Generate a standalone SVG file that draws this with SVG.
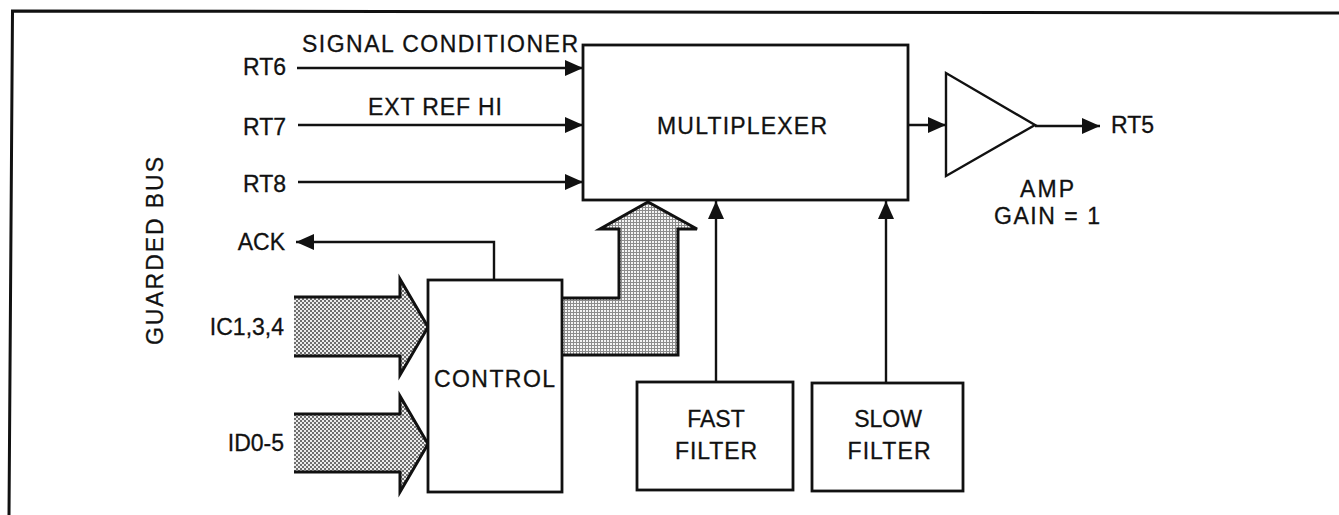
<svg xmlns="http://www.w3.org/2000/svg" width="1339" height="515" viewBox="0 0 1339 515">
<style>
text{font-family:"Liberation Sans",Arial,Helvetica,sans-serif;font-size:23px;fill:#111;stroke:#111;stroke-width:0.3}
.box{fill:#fff;stroke:#111;stroke-width:2.8}
.ln{fill:none;stroke:#111;stroke-width:2.4}
.fat{fill:none;stroke:#111;stroke-width:3;stroke-linejoin:miter}
.mid{text-anchor:middle}
.end{text-anchor:end}
</style>
<defs>
<pattern id="ht1" width="4" height="4" patternUnits="userSpaceOnUse">
<rect width="4" height="4" fill="#ececec"/>
<rect width="2" height="2" fill="#6e6e6e"/>
<rect x="2" y="2" width="2" height="2" fill="#6e6e6e"/>
</pattern>
<pattern id="ht2" width="3" height="3" patternUnits="userSpaceOnUse">
<rect width="3" height="3" fill="#f4f4f4"/>
<rect width="3" height="1" fill="#8c8c8c"/>
<rect width="1" height="3" fill="#8c8c8c"/>
</pattern>
<marker id="ah" viewBox="0 0 18 16" refX="18" refY="8" markerWidth="18" markerHeight="16" markerUnits="userSpaceOnUse" orient="auto">
<path d="M0,0 L18,8 L0,16 Z" fill="#111"/>
</marker>
</defs>
<g id="frame">
<path d="M9,515 L12.5,11 L1339,13" fill="none" stroke="#111" stroke-width="3"/>
</g>
<g id="guarded-bus">
<text transform="translate(163,251) rotate(-90)" class="mid" textLength="188" lengthAdjust="spacing">GUARDED BUS</text>
</g>
<g id="connectors">
<line class="ln" x1="297" y1="68" x2="583" y2="68" marker-end="url(#ah)"/>
<line class="ln" x1="298" y1="125" x2="583" y2="125" marker-end="url(#ah)"/>
<line class="ln" x1="298" y1="182" x2="583" y2="182" marker-end="url(#ah)"/>
<line class="ln" x1="908" y1="125" x2="946" y2="125" marker-end="url(#ah)"/>
<line class="ln" x1="1035" y1="126" x2="1100" y2="126" marker-end="url(#ah)"/>
<line class="ln" x1="716" y1="382" x2="716" y2="201" marker-end="url(#ah)"/>
<line class="ln" x1="886" y1="383" x2="886" y2="201" marker-end="url(#ah)"/>
<polyline class="ln" points="494,280 494,242 296,242" marker-end="url(#ah)"/>
<path d="M294,297 H400 V279 L428,327 L400,375 V356 H294 Z" fill="url(#ht1)"/>
<path class="fat" d="M294,297 H400 V279 L428,327 L400,375 V356 H294"/>
<path d="M294,414 H400 V396 L428,444 L400,492 V472 H294 Z" fill="url(#ht1)"/>
<path class="fat" d="M294,414 H400 V396 L428,444 L400,492 V472 H294"/>
<path d="M563,298 H619 V229 H600 L648,202 L697,229 H678 V355 H563 Z" fill="url(#ht2)"/>
<path class="fat" d="M563,298 H619 V229 H600 L648,202 L697,229 H678 V355 H563"/>
</g>
<g id="labels">
<text x="302" y="52" textLength="276" lengthAdjust="spacing">SIGNAL CONDITIONER</text>
<text x="368" y="115" textLength="134" lengthAdjust="spacing">EXT REF HI</text>
<text x="286" y="75" class="end">RT6</text>
<text x="286" y="135" class="end">RT7</text>
<text x="286" y="192" class="end">RT8</text>
<text x="285" y="250" class="end">ACK</text>
<text x="284" y="335" class="end">IC1,3,4</text>
<text x="284" y="451" class="end">ID0-5</text>
<text x="1111" y="133">RT5</text>
</g>
<g id="multiplexer">
<rect class="box" x="583" y="45" width="325" height="155"/>
<text x="657" y="134" textLength="170" lengthAdjust="spacing">MULTIPLEXER</text>
</g>
<g id="control">
<rect class="box" x="428" y="280" width="134" height="212"/>
<text x="434" y="387" textLength="121" lengthAdjust="spacing">CONTROL</text>
</g>
<g id="amp">
<polygon points="946,73 946,176 1035,125" fill="#fff" stroke="#111" stroke-width="2.4" stroke-linejoin="miter"/>
<text x="1020" y="197" textLength="54" lengthAdjust="spacing">AMP</text>
<text x="994" y="224" textLength="106" lengthAdjust="spacing">GAIN = 1</text>
</g>
<g id="fast-filter">
<rect class="box" x="637" y="382" width="156" height="108"/>
<text x="716" y="427" class="mid">FAST</text>
<text x="716" y="459" class="mid" textLength="82" lengthAdjust="spacing">FILTER</text>
</g>
<g id="slow-filter">
<rect class="box" x="812" y="383" width="151" height="108"/>
<text x="888" y="427" class="mid">SLOW</text>
<text x="889" y="459" class="mid" textLength="83" lengthAdjust="spacing">FILTER</text>
</g>
</svg>
